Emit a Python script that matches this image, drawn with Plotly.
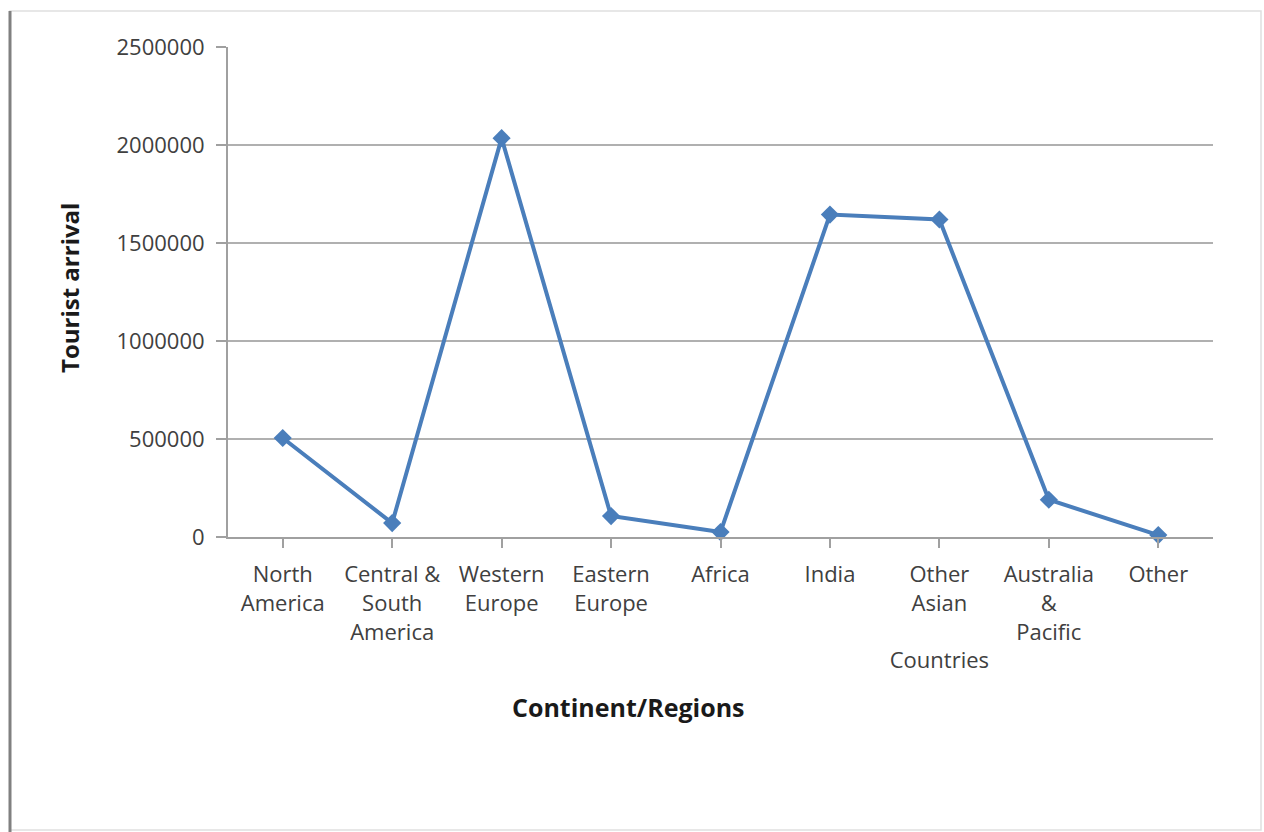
import plotly.graph_objects as go

categories = ["North<br>America", "Central &<br>South<br>America", "Western<br>Europe",
              "Eastern<br>Europe", "Africa", "India", "Other<br>Asian<br><br>Countries",
              "Australia<br>&<br>Pacific", "Other"]
arrivals = [505000, 71000, 2035000, 107000, 25000, 1645000, 1620000, 190000, 10000]
y_ticks = [0, 500000, 1000000, 1500000, 2000000, 2500000]

L, R, T, B = 228, 51, 47, 295
W, H = 1264, 832

fig = go.Figure()
fig.add_trace(go.Scatter(
    x=list(range(len(categories))), y=arrivals, mode="lines+markers",
    line=dict(color="#4a7ebb", width=4),
    marker=dict(symbol="diamond", size=14, color="#4a7ebb"),
    showlegend=False, cliponaxis=False,
))

font_main = "Open Sans"
fig.update_layout(
    width=W, height=H,
    margin=dict(l=L, r=R, t=T, b=B),
    paper_bgcolor="white", plot_bgcolor="white",
    font=dict(family=font_main, color="#404040"),
    xaxis=dict(
        range=[-0.5, len(categories) - 0.5],
        tickmode="array", tickvals=list(range(len(categories))), ticktext=categories,
        tickfont=dict(size=22, color="#404040"),
        showgrid=False, zeroline=False,
        showline=True, linecolor="#a0a0a0", linewidth=2,
        ticks="outside", ticklen=9, tickcolor="#a0a0a0", tickwidth=2,
        tickson="boundaries", ticklabelstandoff=8,
        fixedrange=True,
    ),
    yaxis=dict(
        range=[0, 2500000], tickmode="array", tickvals=y_ticks,
        ticktext=[str(v) for v in y_ticks],
        tickfont=dict(size=22, color="#404040"),
        showgrid=True, gridcolor="#b0b0b0", gridwidth=2,
        zeroline=False,
        showline=True, linecolor="#a0a0a0", linewidth=2,
        ticks="outside", ticklen=10, tickcolor="#a0a0a0", tickwidth=2,
        ticklabelstandoff=7,
        fixedrange=True,
    ),
)

def px_x(px):
    return (px - L) / (W - L - R)

def px_y(py):
    return (H - B - py) / (H - T - B)

# axis titles
fig.add_annotation(text="<b>Continent/Regions</b>", xref="paper", yref="paper",
                   x=px_x(628), y=px_y(707), xanchor="center", yanchor="middle",
                   showarrow=False, font=dict(size=25, color="#1a1a1a", family=font_main))
fig.add_annotation(text="<b>Tourist arrival</b>", xref="paper", yref="paper",
                   x=px_x(69), y=px_y(288), xanchor="center", yanchor="middle", textangle=-90,
                   showarrow=False, font=dict(size=24, color="#1a1a1a", family=font_main))

# page border (light) and darker left edge
fig.add_shape(type="rect", xref="paper", yref="paper",
              x0=px_x(10), x1=px_x(1261), y0=px_y(830), y1=px_y(11),
              line=dict(color="#e0e0e0", width=1.5), layer="below")
fig.add_shape(type="line", xref="paper", yref="paper",
              x0=px_x(10), x1=px_x(10), y0=px_y(832), y1=px_y(11),
              line=dict(color="#808080", width=3))

fig.write_html("out.html")
